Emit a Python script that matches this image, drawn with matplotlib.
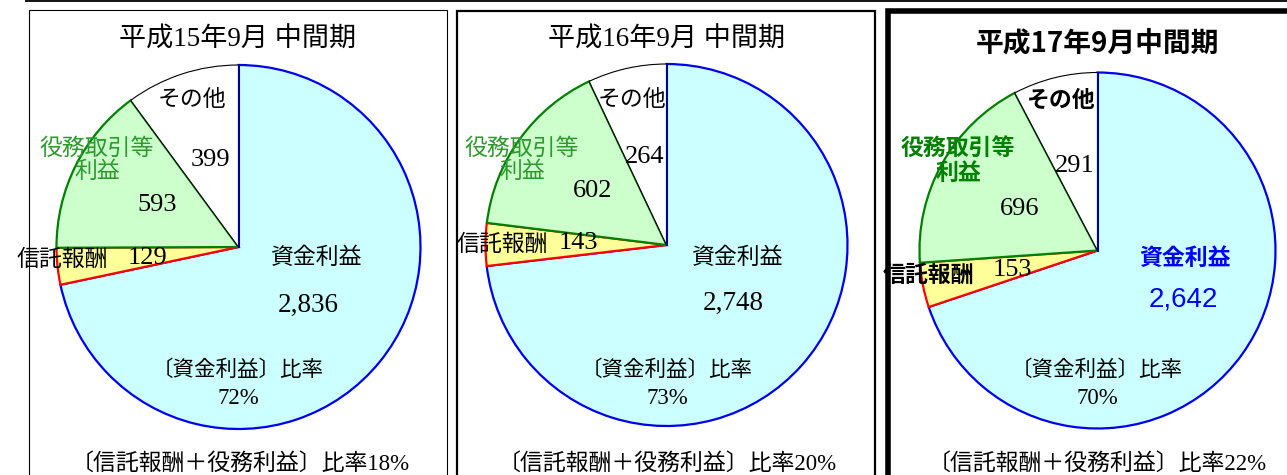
import matplotlib
matplotlib.use("Agg")
import matplotlib.pyplot as plt
from matplotlib.patches import Rectangle

# ---------------- data ----------------
periods = ["平成15年9月 中間期", "平成16年9月 中間期", "平成17年9月中間期"]
categories = ["資金利益", "信託報酬", "役務取引等\n利益", "その他"]
shikin = [2836, 2748, 2642]
shintaku = [129, 143, 153]
ekimu = [593, 602, 696]
sonota = [399, 264, 291]

fill_colors = ["#CCFFFF", "#FFFF99", "#CCFFCC", "#FFFFFF"]
edge_colors = ["#0000EE", "#FF0000", "#008000", "#000000"]
edge_widths = [1.6, 1.6, 1.6, 0.8]

# ---------------- layout (pixel coords, y from top) ----------------
W, H = 1287, 475
centers = [(238.5, 247), (666.5, 245), (1097.5, 250.5)]
radii = [182, 181, 178]
boxes = [(29, 10, 447, 0.8), (457, 11, 875, 1.6), (888, 10.5, 1300, 4.0)]

lab_pos = [
    dict(other=(192, 100), other_v=(210, 160), ek=(97, 161), ek_v=(157, 205),
         sh=(62, 260), sh_v=(148, 258), sk=(317, 258), sk_v=(308, 305),
         r=(238, 371), r_v=(238, 399), bot=(240, 464), title=(238, 40)),
    dict(other=(632, 100), other_v=(645, 157), ek=(522, 161), ek_v=(593, 191),
         sh=(502, 245), sh_v=(578, 243), sk=(738, 258), sk_v=(733, 303),
         r=(667, 371), r_v=(667, 399), bot=(667, 464), title=(667, 40)),
    dict(other=(1061, 100), other_v=(1075, 166), ek=(958, 161), ek_v=(1020, 209),
         sh=(928, 275), sh_v=(1012, 270), sk=(1185, 258), sk_v=(1183, 300),
         r=(1097, 371), r_v=(1097, 399), bot=(1097, 464), title=(1097, 43)),
]

SERIF = ["Liberation Serif", "Noto Sans CJK JP"]
SANS = ["Noto Sans CJK JP", "DejaVu Sans"]
GREEN1 = "#2E9A2E"
GREEN3 = "#008000"

fig = plt.figure(figsize=(W / 100, H / 100), dpi=100)
ax = fig.add_axes([0, 0, 1, 1])
ax.set_xlim(0, W)
ax.set_ylim(0, H)
ax.set_aspect("equal")
ax.axis("off")


def Y(y):
    return H - y


# top rule
ax.plot([25, W], [Y(0.8), Y(0.8)], color="black", lw=1.3, solid_capstyle="butt", zorder=10)

for i in range(3):
    x0, y0, x1, lw = boxes[i]
    ax.add_patch(Rectangle((x0, -20), x1 - x0, Y(y0) + 20, fill=False,
                           edgecolor="black", lw=lw, zorder=10))

    vals = [shikin[i], shintaku[i], ekimu[i], sonota[i]]
    cx, cy = centers[i]
    r = radii[i]
    wedges, _ = ax.pie(vals, startangle=90, counterclock=False,
                       center=(cx, Y(cy)), radius=r, colors=fill_colors,
                       frame=True)
    for k, w in enumerate(wedges):
        w.set_edgecolor(edge_colors[k])
        w.set_linewidth(edge_widths[k])
        w.set_zorder(2 + k)
    ax.plot([cx, cx], [Y(cy), Y(cy) + r], color="#000099", lw=1.5, zorder=7)

    total = sum(vals)
    ratio = round(100 * shikin[i] / total)
    ratio2 = round(100 * (shintaku[i] + ekimu[i]) / total)
    P = lab_pos[i]
    bold = (i == 2)
    fw = "bold" if bold else "normal"

    def T(pos, s, size, color="black", family=SERIF, weight="normal", **kw):
        ax.text(pos[0], Y(pos[1]), s, fontsize=size, color=color, family=family,
                weight=weight, ha="center", va="center", zorder=20, **kw)

    T(P["title"], periods[i], 20 if bold else 19.5, family=(SANS if bold else SERIF), weight=fw)
    T(P["other"], categories[3], 16.5, family=(SANS if bold else SERIF), weight=fw)
    T(P["other_v"], f"{sonota[i]:,}", 19)
    T(P["ek"], categories[2], 16.5, color=(GREEN3 if bold else GREEN1),
      family=(SANS if bold else SERIF), weight=fw, linespacing=1.1)
    T(P["ek_v"], f"{ekimu[i]:,}", 19)
    T(P["sh"], categories[1], 16.5, family=(SANS if bold else SERIF), weight=fw)
    T(P["sh_v"], f"{shintaku[i]:,}", 19)
    T(P["sk"], categories[0], 16.5, color=("#0000FF" if bold else "black"),
      family=(SANS if bold else SERIF), weight=fw)
    if bold:
        T(P["sk_v"], f"{shikin[i]:,}", 20, color="#0000FF",
          family=["Liberation Sans", "DejaVu Sans"])
    else:
        T(P["sk_v"], f"{shikin[i]:,}", 19.5)
    T(P["r"], "〔資金利益〕比率", 15.5)
    T(P["r_v"], f"{ratio}%", 16.5)
    T(P["bot"], f"〔信託報酬＋役務利益〕比率{ratio2}%", 16.5)

ax.set_xlim(0, W)
ax.set_ylim(0, H)
fig.savefig("out.png", dpi=100)
